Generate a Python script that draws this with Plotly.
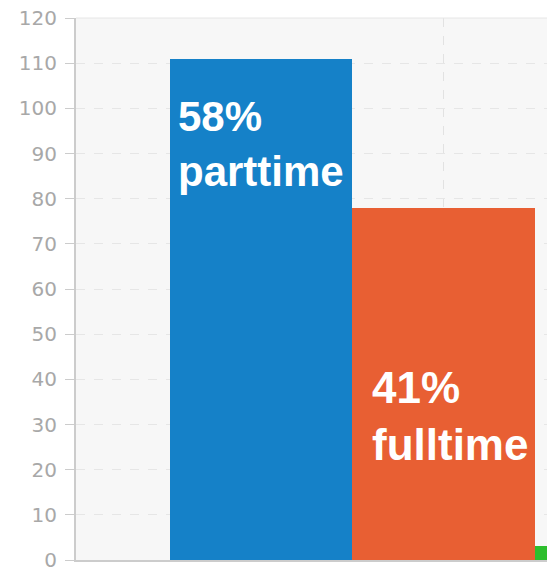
import plotly.graph_objects as go

categories = ["parttime", "fulltime", "other"]
values = [111, 78, 3]
colors = ["#1581C8", "#E85F33", "#2DBE2D"]
labels = ["58%<br>parttime", "41%<br>fulltime"]
label_tops = [103.75, 44.1]
label_shift = [6, 18]
label_sizes = [42, 44]
y_ticks = list(range(0, 121, 10))

x_pos = list(range(len(categories)))

fig = go.Figure()
fig.add_trace(go.Bar(
    x=x_pos, y=values, width=1.0,
    marker=dict(color=colors, line=dict(width=0)),
    hovertext=categories, showlegend=False,
))

for i, lab in enumerate(labels):
    fig.add_annotation(
        x=x_pos[i] - 0.5, y=label_tops[i], xref="x", yref="y",
        text=lab, showarrow=False, xanchor="left", yanchor="top", align="left",
        xshift=label_shift[i],
        font=dict(family="Liberation Sans, Arial", size=label_sizes[i], color="white", weight="bold"),
    )

fig.add_shape(type="line", xref="paper", yref="paper", x0=0, x1=1, y0=1, y1=1,
              line=dict(color="#e6e6e6", width=1))

fig.update_layout(
    width=547, height=573,
    margin=dict(l=76, r=0, t=18, b=13),
    paper_bgcolor="white",
    plot_bgcolor="#f7f7f7",
    bargap=0,
    xaxis=dict(
        range=[-1.011, 1.563],
        tickvals=[1], showticklabels=False, ticks="",
        showgrid=True, gridcolor="#e2e2e2", griddash="dash", gridwidth=1,
        zeroline=False, showline=True, linecolor="#cccccc", linewidth=2,
    ),
    yaxis=dict(
        range=[0, 120], tickvals=y_ticks,
        ticks="outside", ticklen=9, tickcolor="#cccccc", tickwidth=1,
        ticklabelstandoff=4,
        showline=True, linecolor="#cccccc", linewidth=2,
        showgrid=True, gridcolor="#e6e6e6", griddash="dash", gridwidth=1,
        zeroline=False,
        tickfont=dict(family="DejaVu Sans", size=20, color="#a8a8a8"),
    ),
)

# remove the browser's default 8px body margin so the figure fills the window exactly
fig.write_html("out.html", config={"displayModeBar": False},
               post_script="document.body.style.margin='0';")
